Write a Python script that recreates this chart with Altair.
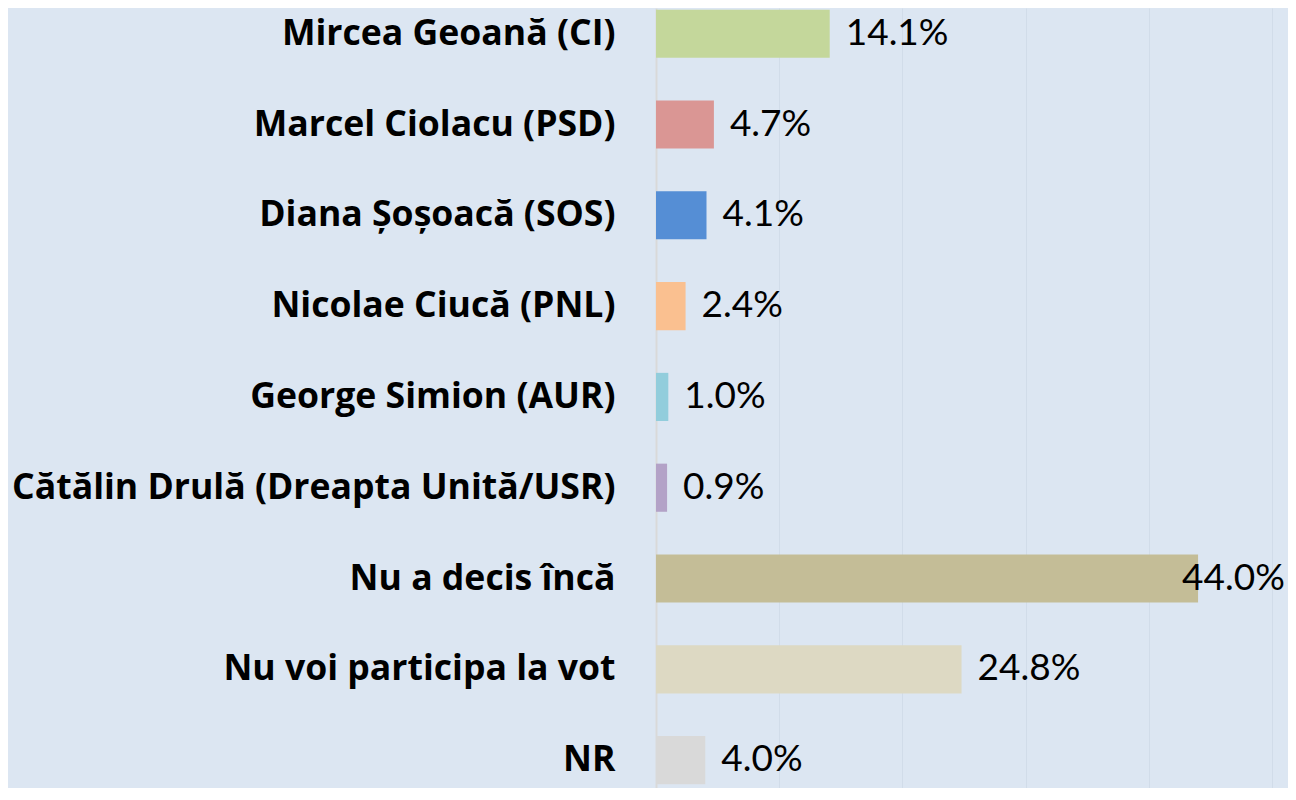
import altair as alt
import pandas as pd

categories = [
    "Mircea Geoană (CI)",
    "Marcel Ciolacu (PSD)",
    "Diana Șoșoacă (SOS)",
    "Nicolae Ciucă (PNL)",
    "George Simion (AUR)",
    "Cătălin Drulă (Dreapta Unită/USR)",
    "Nu a decis încă",
    "Nu voi participa la vot",
    "NR",
]
values = [14.1, 4.7, 4.1, 2.4, 1.0, 0.9, 44.0, 24.8, 4.0]
colors = ["#C4D79B", "#DA9694", "#558ED5", "#FAC090", "#92CDDC",
          "#B3A2C7", "#C4BD97", "#DDD9C3", "#D9D9D9"]
grid_values = [10, 20, 30, 40, 50]

df = pd.DataFrame({"cat": categories, "value": values, "color": colors})
df["label"] = [f"{v:.1f}%" for v in values]

BG = "#DCE6F2"

y_enc = alt.Y(
    "cat:N",
    sort=categories,
    title=None,
    scale=alt.Scale(paddingInner=0.47, paddingOuter=0.03, align=0.3),
    axis=alt.Axis(
        labelFont="Open Sans",
        labelFontWeight="bold",
        labelFontSize=35.6,
        labelColor="#000000",
        labelPadding=41,
        labelLimit=700,
        ticks=False,
        domain=True,
        domainColor="#D9D9D9",
        domainWidth=2,
        grid=False,
    ),
)

x_scale = alt.Scale(domain=[0, 51.3], nice=False, zero=True)

bars = alt.Chart(df).mark_bar().encode(
    y=y_enc,
    x=alt.X(
        "value:Q",
        scale=x_scale,
        title=None,
        axis=alt.Axis(
            values=grid_values,
            labels=False,
            ticks=False,
            domain=False,
            grid=True,
            gridColor="#D1DCE9",
            gridWidth=1,
        ),
    ),
    color=alt.Color("color:N", scale=None, legend=None),
)

text = alt.Chart(df).transform_calculate(
    lx="min(datum.value, 41.4)"
).mark_text(
    align="left",
    baseline="middle",
    dx=16,
    font="Lato",
    fontSize=37,
    color="#000000",
).encode(
    y=alt.Y("cat:N", sort=categories),
    x=alt.X("lx:Q", scale=x_scale),
    text="label:N",
)

chart = (
    alt.layer(bars, text)
    .properties(
        width=632,
        height=780,
        background=BG,
        padding={"left": 648, "top": 0, "right": 0, "bottom": 0},
        autosize=alt.AutoSizeParams(type="none"),
    )
    .configure_view(stroke=None, fill=BG)
)

chart.save("out.html", embed_options={"renderer": "svg", "actions": False})
